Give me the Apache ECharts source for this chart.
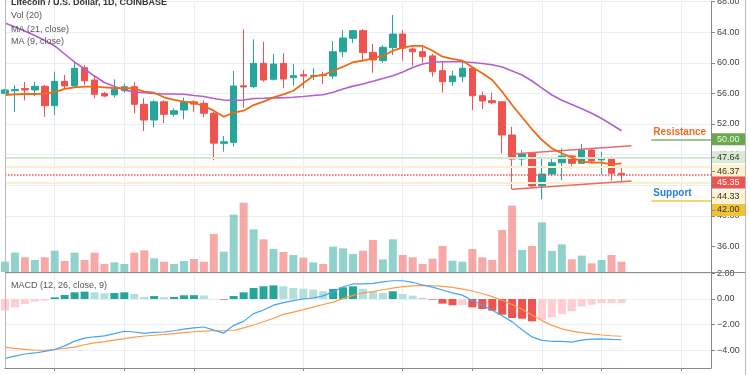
<!DOCTYPE html>
<html>
<head>
<meta charset="utf-8">
<script src="https://cdn.jsdelivr.net/npm/echarts@6/dist/echarts.min.js"></script>
<style>
    html, body {margin: 0; padding: 0; background: #fff;}
    #chart {width: 750px; height: 375px;}
</style>
</head>
<body>
<div id="chart"></div>
<script>
// 日期（从 2019-10-02 起，每天一根K线，右侧留空）
var dates = [];
(function () {
    var d = new Date(Date.UTC(2019, 9, 2));
    for (var i = 0; i < 72; i++) {
        dates.push(d.toISOString().slice(0, 10));
        d.setUTCDate(d.getUTCDate() + 1);
    }
})();
// 竖向网格所在日期
var gridDates = ['2019-10-07', '2019-10-14', '2019-10-21', '2019-11-01', '2019-11-11',
    '2019-11-18', '2019-11-25', '2019-12-01', '2019-12-09'];

// K线 [open, close, low, high]
var ohlc = [
    [56.0, 56.45, 55.9, 56.6], [56.35, 56.5, 53.6, 57.1], [56.65, 56.45, 55.1, 57.5], [56.45, 56.93, 55.66, 57.5],
    [56.93, 54.4, 52.95, 57.1], [54.4, 57.58, 53.18, 58.84], [57.58, 56.97, 56.66, 58.4], [56.97, 59.28, 56.88, 60.14],
    [59.36, 57.66, 57.1, 59.7], [57.75, 55.88, 55.36, 58.4], [56.0, 55.66, 55.5, 56.2], [55.8, 56.53, 55.5, 57.84],
    [56.35, 56.88, 56.1, 57.3], [56.88, 54.57, 53.4, 57.5], [54.57, 52.52, 51.1, 55.36], [52.52, 54.9, 51.57, 55.1],
    [54.9, 53.27, 52.1, 55.1], [53.27, 53.74, 52.95, 54.05], [53.83, 54.83, 52.6, 55.44], [54.9, 54.6, 53.6, 55.1],
    [54.7, 53.4, 52.9, 55.1], [53.4, 49.5, 47.25, 53.6], [49.47, 49.68, 48.38, 50.43], [49.6, 56.97, 49.03, 58.93],
    [57.0, 56.84, 54.13, 64.38], [56.88, 59.93, 56.66, 63.07], [59.93, 57.75, 57.53, 62.76], [57.84, 59.84, 57.66, 61.15],
    [59.93, 57.88, 56.66, 61.24], [58.05, 58.31, 57.0, 59.84], [58.44, 58.27, 56.66, 59.06], [58.22, 58.35, 57.75, 59.28],
    [58.44, 58.35, 57.23, 58.84], [58.27, 61.45, 57.88, 62.85], [61.45, 63.24, 60.72, 64.29], [63.2, 64.2, 62.6, 64.3],
    [64.2, 61.32, 60.24, 64.4], [61.37, 60.37, 58.7, 62.46], [60.28, 62.02, 60.0, 62.3], [61.98, 63.76, 61.0, 66.25],
    [63.76, 61.9, 60.28, 64.29], [61.8, 61.45, 59.58, 62.0], [61.45, 60.8, 60.0, 62.1], [60.9, 58.84, 58.18, 61.15],
    [58.97, 57.53, 56.1, 60.14], [57.53, 58.27, 56.97, 58.97], [58.18, 59.28, 57.45, 60.14], [59.28, 55.7, 53.83, 59.41],
    [55.7, 55.0, 53.96, 56.22], [55.05, 54.78, 54.6, 56.1], [54.9, 50.56, 48.17, 54.95], [50.56, 47.42, 43.46, 51.65],
    [47.42, 48.08, 46.34, 48.6], [48.17, 43.9, 43.6, 48.25], [43.9, 45.46, 42.16, 47.5], [45.46, 46.94, 45.2, 47.72],
    [46.94, 47.82, 44.68, 48.82], [47.82, 46.86, 46.2, 47.95], [46.86, 48.6, 46.77, 49.4], [48.6, 47.16, 46.86, 48.7],
    [47.3, 47.6, 45.46, 48.38], [47.6, 45.55, 44.6, 47.72], [45.55, 45.35, 44.25, 46.42]
];

// MA (9, close)
var ma9 = [55.79, 55.86, 55.92, 55.92, 55.96, 56.18, 56.58, 56.8, 56.88, 56.88,
    56.8, 56.7, 56.67, 56.67, 56.22, 56.09, 55.49, 55.14, 54.92, 54.78,
    54.35, 53.74, 52.95, 53.48, 53.74, 54.48, 54.92, 55.49, 55.88, 56.35,
    57.32, 58.27, 58.4, 58.93, 59.49, 60.07, 60.27, 60.59, 60.89, 61.58,
    61.97, 62.2, 62.2, 61.58, 60.8, 60.5, 60.27, 59.41, 58.63, 57.75,
    56.22, 54.48, 52.88, 51.31, 49.9, 48.82, 48.17, 47.6, 47.07, 46.94,
    46.94, 46.73, 46.86];
// MA (21, close)
var ma21 = [65.2, 64.68, 64.16, 63.57, 62.92, 62.2, 61.15, 60.1, 59.19, 58.27,
    57.42, 56.9, 56.44, 56.2, 56.09, 55.99, 55.92, 55.92, 55.88, 55.73,
    55.6, 55.33, 55.14, 55.07, 55.14, 55.33, 55.36, 55.42, 55.44, 55.49,
    55.6, 55.73, 55.83, 56.15, 56.58, 56.95, 57.24, 57.6, 57.95, 58.3,
    58.8, 59.38, 59.84, 60.07, 60.14, 60.14, 60.14, 60.04, 59.9, 59.74,
    59.45, 58.93, 58.4, 57.62, 56.7, 55.79, 55.1, 54.55, 54.0, 53.4,
    52.72, 51.93, 51.12];

// 成交量（千）
var volumes = [310, 580, 440, 360, 440, 640, 330, 580, 360, 580,
    240, 290, 240, 580, 650, 410, 310, 240, 330, 390,
    310, 1140, 610, 1720, 2080, 1280, 980, 690, 600, 510,
    430, 290, 240, 760, 710, 540, 640, 960, 380, 980,
    510, 440, 240, 400, 780, 340, 310, 690, 440, 360,
    1260, 1990, 660, 780, 1490, 630, 830, 380, 490, 260,
    360, 510, 310];

// MACD (12, 26, close, 9)
var macdLine = [-4.62, -4.45, -4.28, -4.2, -4.08, -3.93, -3.65, -3.28, -3.04, -2.94,
    -2.87, -2.7, -2.51, -2.57, -2.67, -2.59, -2.57, -2.47, -2.34, -2.24,
    -2.18, -2.42, -2.65, -2.05, -1.74, -1.14, -0.86, -0.48, -0.28, -0.12,
    0.0, 0.08, 0.24, 0.57, 0.95, 1.17, 1.17, 1.22, 1.33, 1.42,
    1.42, 1.3, 1.09, 0.92, 0.7, 0.48, 0.3, -0.14, -0.45, -0.88,
    -1.3, -1.78, -2.39, -2.95, -3.22, -3.29, -3.3, -3.35, -3.2, -3.12,
    -3.1, -3.14, -3.17];
var signalLine = [-3.76, -3.84, -3.92, -3.99, -3.99, -3.93, -3.84, -3.74, -3.56, -3.42,
    -3.32, -3.2, -3.08, -2.97, -2.88, -2.82, -2.76, -2.69, -2.62, -2.55,
    -2.5, -2.47, -2.47, -2.45, -2.25, -2.02, -1.77, -1.5, -1.2, -1.02,
    -0.83, -0.63, -0.43, -0.24, 0.03, 0.28, 0.47, 0.58, 0.72, 0.85,
    0.96, 1.02, 1.06, 1.03, 0.98, 0.9, 0.77, 0.62, 0.43, 0.18,
    -0.1, -0.43, -0.8, -1.25, -1.68, -2.05, -2.32, -2.5, -2.61, -2.72,
    -2.8, -2.86, -2.9];
var macdHist = [-0.9, -0.65, -0.39, -0.2, -0.12, 0.13, 0.31, 0.52, 0.57, 0.52,
    0.44, 0.47, 0.52, 0.39, 0.16, 0.23, 0.14, 0.16, 0.29, 0.3,
    0.28, 0.02, -0.05, 0.23, 0.52, 0.86, 0.99, 1.06, 0.99, 0.86,
    0.8, 0.73, 0.6, 0.78, 0.91, 0.99, 0.8, 0.58, 0.47, 0.6,
    0.39, 0.26, 0.1, -0.05, -0.36, -0.49, -0.47, -0.65, -0.78, -0.91,
    -1.22, -1.48, -1.53, -1.74, -1.61, -1.43, -1.17, -0.96, -0.57, -0.44,
    -0.32, -0.31, -0.3];

// 水平价位线
var levelValues = [47.64, 46.37, 45.35, 44.33];
var resistance = 50.00;
var support = 42.00;
// 通道线 [起点索引, 起点价, 终点索引, 终点价]
var channelUpper = [51, 48.08, 63, 49.16];
var channelLower = [51, 43.46, 63, 44.55];
// 右侧价格标签
var tagValues = [50.00, 47.64, 46.37, 45.35, 44.33, 42.00];

var UP = '#26a69a', DOWN = '#ef5350';
var FONT = 'Liberation Sans, Arial, sans-serif';

function isGridDate(index, value) {
    return gridDates.indexOf(value) >= 0;
}

function histColor(i) {
    var v = macdHist[i];
    var p = i > 0 ? macdHist[i - 1] : v - 1;
    if (v >= 0) {
        return v > p ? '#26a69a' : '#b2dfdb';
    }
    return v > p ? '#ffcdd2' : '#ef5350';
}

var chart = echarts.init(document.getElementById('chart'), null, {renderer: 'canvas'});

var gridBase = {left: 5, right: 39, outerBoundsMode: 'none', containLabel: false};
var splitColor = '#eaeef4';

function catAxis(gridIndex, extra) {
    var axis = {
        type: 'category',
        gridIndex: gridIndex,
        data: dates,
        boundaryGap: false,
        axisLine: {show: false},
        axisTick: {show: false},
        axisLabel: {show: false},
        splitLine: {show: false}
    };
    return Object.assign(axis, extra || {});
}

var levelStyles = [
    {color: '#d3e8cf', width: 2, type: 'solid'},
    {color: '#fcefc9', width: 2, type: 'solid'},
    {color: '#ef5350', width: 1.5, type: 'dotted'},
    {color: '#fcefc9', width: 2, type: 'solid'}
];

var option = {
    animation: false,
    backgroundColor: '#fff',
    grid: [
        Object.assign({top: 1.6, height: 275.4}, gridBase),
        Object.assign({top: 172, height: 100}, gridBase),
        Object.assign({top: 273.3, height: 102.8}, gridBase),
        Object.assign({top: 272, height: 96}, gridBase)
    ],
    xAxis: [
        catAxis(0, {splitLine: {show: true, interval: isGridDate, lineStyle: {color: splitColor}}}),
        catAxis(1, {show: false}),
        catAxis(2, {show: false}),
        catAxis(3, {
            axisLine: {show: true, lineStyle: {color: '#888'}},
            axisTick: {show: true, interval: isGridDate, length: 3, lineStyle: {color: '#888'}},
            splitLine: {show: true, interval: isGridDate, lineStyle: {color: splitColor}}
        })
    ],
    yAxis: [
        {
            type: 'value', gridIndex: 0, position: 'right',
            min: 32, max: 68, interval: 4,
            axisLine: {show: true, lineStyle: {color: '#888'}},
            axisTick: {show: true, length: 4, customValues: [36, 40, 44, 48, 52, 56, 60, 64, 68], lineStyle: {color: '#888'}},
            axisLabel: {
                margin: 6, fontSize: 9, color: '#444', fontFamily: FONT,
                formatter: function (v) { return v <= 32 ? '' : v.toFixed(2); }
            },
            splitLine: {
                show: true,
                lineStyle: {color: ['rgba(0,0,0,0)', splitColor, splitColor, splitColor, splitColor,
                    splitColor, splitColor, splitColor, splitColor, splitColor]}
            }
        },
        {type: 'value', gridIndex: 1, min: 0, max: 3000, show: false},
        {
            type: 'value', gridIndex: 2, position: 'right',
            min: -6, max: 2, interval: 2,
            axisLine: {show: false},
            axisTick: {show: true, length: 4, lineStyle: {color: '#888'}},
            axisLabel: {
                margin: 6, fontSize: 9, color: '#444', fontFamily: FONT,
                formatter: function (v) { return v <= -6 ? '' : v.toFixed(2).replace('-', '\u2212'); }
            },
            splitLine: {show: true, lineStyle: {color: splitColor}}
        },
        {
            type: 'value', gridIndex: 3, position: 'right', min: 0, max: 1,
            axisLine: {show: true, lineStyle: {color: '#888'}},
            axisTick: {show: false}, axisLabel: {show: false}, splitLine: {show: false}
        }
    ],
    series: [
        {
            name: 'Vol',
            type: 'bar',
            xAxisIndex: 1, yAxisIndex: 1,
            barWidth: 8,
            data: volumes.map(function (v, i) {
                return {
                    value: v,
                    itemStyle: {color: ohlc[i][1] >= ohlc[i][0] ? 'rgba(38,166,154,0.5)' : 'rgba(239,83,80,0.5)'}
                };
            }),
            z: 1
        },
        {
            name: 'LTCUSD',
            type: 'candlestick',
            xAxisIndex: 0, yAxisIndex: 0,
            barWidth: 7,
            data: ohlc,
            itemStyle: {color: UP, color0: DOWN, borderColor: UP, borderColor0: DOWN, borderWidth: 1},
            z: 3,
            markLine: {
                silent: true,
                symbol: 'none',
                animation: false,
                label: {show: false},
                data: levelValues.map(function (v, i) {
                    return {yAxis: v, lineStyle: levelStyles[i], label: {show: false}};
                }).concat([
                    [
                        {
                            coord: [dates[65], resistance],
                            lineStyle: {color: '#7fb26b', width: 1.5, type: 'solid'},
                            label: {
                                show: true, position: 'insideStartTop', distance: 2, formatter: 'Resistance',
                                color: '#f26b21', fontWeight: 'bold', fontSize: 10, fontFamily: FONT
                            }
                        },
                        {coord: [dates[71], resistance]}
                    ],
                    [
                        {
                            coord: [dates[65], support],
                            lineStyle: {color: '#f3c646', width: 1.5, type: 'solid'},
                            label: {
                                show: true, position: 'insideStartTop', distance: 2, formatter: 'Support',
                                color: '#2b7fdc', fontWeight: 'bold', fontSize: 10, fontFamily: FONT
                            }
                        },
                        {coord: [dates[71], support]}
                    ],
                    [
                        {coord: [dates[channelUpper[0]], channelUpper[1]], lineStyle: {color: '#e86a6a', width: 1.5, type: 'solid'}},
                        {coord: [dates[channelUpper[2]], channelUpper[3]]}
                    ],
                    [
                        {coord: [dates[channelLower[0]], channelLower[1]], lineStyle: {color: '#e86a6a', width: 1.5, type: 'solid'}},
                        {coord: [dates[channelLower[2]], channelLower[3]]}
                    ]
                ])
            }
        },
        {
            name: 'MA (21, close)',
            type: 'line',
            xAxisIndex: 0, yAxisIndex: 0,
            data: ma21,
            showSymbol: false,
            lineStyle: {color: '#b25fd0', width: 1.6},
            z: 4
        },
        {
            name: 'MA (9, close)',
            type: 'line',
            xAxisIndex: 0, yAxisIndex: 0,
            data: ma9,
            showSymbol: false,
            lineStyle: {color: '#f2670f', width: 1.8},
            z: 5
        },
        {
            name: 'Histogram',
            type: 'bar',
            xAxisIndex: 2, yAxisIndex: 2,
            barWidth: 8,
            data: macdHist.map(function (v, i) {
                return {value: v, itemStyle: {color: histColor(i)}};
            }),
            z: 2
        },
        {
            name: 'MACD',
            type: 'line',
            xAxisIndex: 2, yAxisIndex: 2,
            data: macdLine,
            showSymbol: false,
            lineStyle: {color: '#42a5f5', width: 1.2},
            z: 4
        },
        {
            name: 'Signal',
            type: 'line',
            xAxisIndex: 2, yAxisIndex: 2,
            data: signalLine,
            showSymbol: false,
            lineStyle: {color: '#ff9a4a', width: 1.2},
            z: 3
        }
    ]
};
chart.setOption(option, true);

// 图框与左上角文字
var textStyle = {fill: '#555', font: '9px ' + FONT, textVerticalAlign: 'middle'};
var graphics = [
    {type: 'line', shape: {x1: 5.5, y1: 0, x2: 5.5, y2: 368}, style: {stroke: '#b8b8b8', lineWidth: 1}, z: 50, silent: true},
    {type: 'line', shape: {x1: 745.5, y1: 0, x2: 745.5, y2: 375}, style: {stroke: '#b8b8b8', lineWidth: 1}, z: 50, silent: true},
    {type: 'line', shape: {x1: 5, y1: 272.5, x2: 745, y2: 272.5}, style: {stroke: '#8c8c8c', lineWidth: 1}, z: 50, silent: true},
    {type: 'text', x: 11, y: 3, style: Object.assign({}, textStyle, {text: 'Litecoin / U.S. Dollar, 1D, COINBASE', fill: '#333', font: 'bold 9px ' + FONT}), z: 60},
    {type: 'text', x: 11, y: 16, style: Object.assign({}, textStyle, {text: 'Vol (20)'}), z: 60},
    {type: 'text', x: 11, y: 29.5, style: Object.assign({}, textStyle, {text: 'MA (21, close)'}), z: 60},
    {type: 'text', x: 11, y: 42, style: Object.assign({}, textStyle, {text: 'MA (9, close)'}), z: 60},
    {type: 'text', x: 11, y: 286, style: Object.assign({}, textStyle, {text: 'MACD (12, 26, close, 9)'}), z: 60}
];

// 右侧价格标签（重叠时按 TradingView 方式错开）
var tagShift = [0, 0, 4, 7.7, 14.2, 9.5];
var tagFill = ['#6aa84f', '#d9ead3', '#fff2cc', '#ef5350', '#fff2cc', '#f1c232'];
var tagTextColor = ['#e9f4e3', '#333', '#333', '#fff', '#333', '#333'];
tagValues.forEach(function (v, i) {
    var y = chart.convertToPixel({yAxisIndex: 0}, v) + tagShift[i];
    graphics.push({
        type: 'rect', shape: {x: 712, y: y - 6, width: 33, height: 12},
        style: {fill: tagFill[i]}, z: 70, silent: true
    });
    graphics.push({
        type: 'line', shape: {x1: 711, y1: Math.round(y) + 0.5, x2: 715, y2: Math.round(y) + 0.5},
        style: {stroke: '#888', lineWidth: 1}, z: 71, silent: true
    });
    graphics.push({
        type: 'text', x: 717, y: y,
        style: {text: v.toFixed(2), fill: tagTextColor[i], font: '9px ' + FONT, textVerticalAlign: 'middle'},
        z: 72, silent: true
    });
});
chart.setOption({graphic: graphics});
</script>
</body>
</html>
